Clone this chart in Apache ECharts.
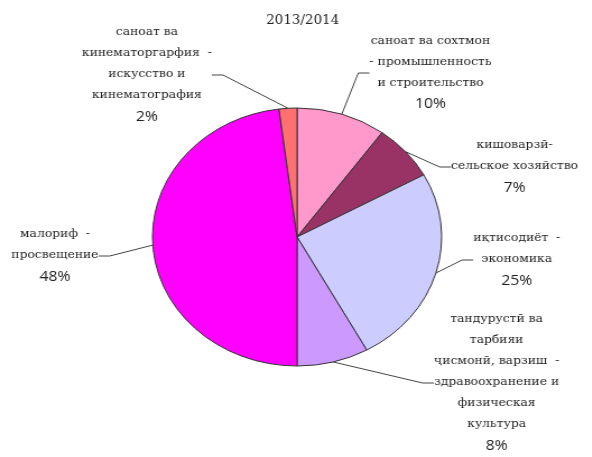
<!DOCTYPE html>
<html>
<head>
<meta charset="utf-8">
<script src="https://cdn.jsdelivr.net/npm/echarts@6/dist/echarts.min.js"></script>
<style>
html, body { margin: 0; padding: 0; background: #fff; overflow: hidden; }
/* the original picture is stretched sideways, so the pie is drawn narrower and scaled */
#main { width: 528px; height: 457px; transform: scaleX(1.121); transform-origin: 0 0; }
</style>
</head>
<body>
<div id="main"></div>
<script>
var title = '2013/2014'
var categories = [
  'саноат ва сохтмон\n- промышленность\nи строительство',
  'кишоварзӣ-\nсельское хозяйство',
  'иқтисодиёт  -\nэкономика',
  'тандурустӣ ва\nтарбияи\nҷисмонӣ, варзиш  -\nздравоохранение и\nфизическая\nкультура',
  'малориф  -\nпросвещение',
  'саноат ва\nкинематоргарфия  -\nискусство и\nкинематография'
]
var values = [10, 7, 25, 8, 48, 2]

var colors = ['#ff99cc', '#993366', '#ccccff', '#cc99ff', '#ff00ff', '#ff7070']
// label centres in chart space
var labelPos = [[384, 73], [459, 167], [461, 260], [443, 383], [49, 256], [131, 75]]

var chart = echarts.init(document.getElementById('main'))
var option = {
  animation: false,
  title: {
    text: title,
    left: 265,
    top: 10,
    textAlign: 'center',
    textStyle: { fontFamily: 'DejaVu Serif', fontSize: 12, fontWeight: 'normal', color: '#222' }
  },
  series: [
    {
      type: 'pie',
      center: [265, 237],
      radius: 129,
      startAngle: 90,
      clockwise: true,
      itemStyle: { borderColor: '#333', borderWidth: 1 },
      label: {
        show: true,
        color: '#222',
        fontFamily: 'DejaVu Serif',
        fontSize: 11,
        lineHeight: 21,
        align: 'center',
        overflow: 'none',
        formatter: function (p) {
          return p.name + '\n{p|' + p.value + '%}'
        },
        rich: {
          p: { fontFamily: 'Open Sans', fontSize: 14, lineHeight: 22, color: '#222' }
        }
      },
      labelLine: {
        show: true,
        length: 15,
        length2: 10,
        lineStyle: { color: '#444', width: 1 }
      },
      labelLayout: function (params) {
        var p = labelPos[params.dataIndex]
        return { x: p[0], y: p[1], align: 'center', verticalAlign: 'middle' }
      },
      data: values.map(function (v, i) {
        return { name: categories[i], value: v, itemStyle: { color: colors[i] } }
      })
    }
  ]
}
chart.setOption(option)
</script>
</body>
</html>
